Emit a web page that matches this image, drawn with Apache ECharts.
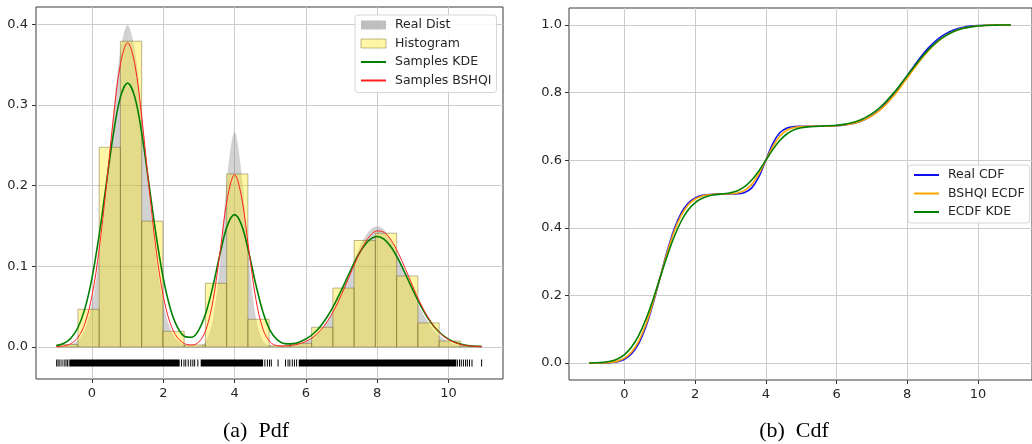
<!DOCTYPE html>
<html>
<head>
<meta charset="utf-8">
<script src="https://cdn.jsdelivr.net/npm/echarts@6/dist/echarts.min.js"></script>
<style>
  html, body { margin: 0; padding: 0; background: #fff; }
  #chart { width: 1032px; height: 444px; }
</style>
</head>
<body>
<div id="chart"></div>
<script>
// Sample grid shared by every density / distribution curve
const xGrid = [-1.0, -0.8, -0.6, -0.4, -0.2, 0.0, 0.2, 0.4, 0.6, 0.8, 1.0, 1.2, 1.4, 1.6, 1.8, 2.0, 2.2, 2.4, 2.6, 2.8,
  3.0, 3.2, 3.4, 3.6, 3.8, 4.0, 4.2, 4.4, 4.6, 4.8, 5.0, 5.2, 5.4, 5.6, 5.8, 6.0, 6.2, 6.4, 6.6, 6.8,
  7.0, 7.2, 7.4, 7.6, 7.8, 8.0, 8.2, 8.4, 8.6, 8.8, 9.0, 9.2, 9.4, 9.6, 9.8, 10.0, 10.2, 10.4, 10.6, 10.8, 10.93];

// (a) densities
const realPdf = [0.0001, 0.0006, 0.0024, 0.0079, 0.0224, 0.054, 0.111, 0.194, 0.290, 0.368, 0.399, 0.368, 0.290, 0.194, 0.111, 0.054, 0.0224, 0.0079, 0.0024, 0.0007,
  0.0011, 0.0076, 0.036, 0.109, 0.213, 0.266, 0.213, 0.109, 0.036, 0.0077, 0.0012, 0.0004, 0.0008, 0.0017, 0.0034, 0.0066, 0.0119, 0.0202, 0.0324, 0.0486,
  0.0685, 0.0907, 0.1129, 0.132, 0.145, 0.1496, 0.145, 0.132, 0.1129, 0.0907, 0.0685, 0.0486, 0.0324, 0.0202, 0.0119, 0.0066, 0.0034, 0.0017, 0.0008, 0.0003, 0.0002];
const kdePdf = [0.0015, 0.0042, 0.0105, 0.0235, 0.0472, 0.0853, 0.1384, 0.2016, 0.2637, 0.310, 0.327, 0.310, 0.2637, 0.2016, 0.1384, 0.0853, 0.0474, 0.0242, 0.0131, 0.0121,
  0.0214, 0.043, 0.0768, 0.117, 0.1507, 0.164, 0.1507, 0.117, 0.0768, 0.0427, 0.0203, 0.0087, 0.0042, 0.0038, 0.0058, 0.0098, 0.0161, 0.0252, 0.0375, 0.0529,
  0.0708, 0.0898, 0.108, 0.1233, 0.1334, 0.137, 0.1334, 0.1233, 0.108, 0.0898, 0.0708, 0.0529, 0.0375, 0.0252, 0.0161, 0.0098, 0.0056, 0.0031, 0.0016, 0.0008, 0.0005];
const bshqiPdf = [0.0003, 0.0012, 0.0039, 0.0114, 0.0288, 0.0632, 0.1202, 0.1982, 0.2833, 0.351, 0.377, 0.351, 0.2833, 0.1982, 0.1202, 0.0632, 0.0288, 0.0114, 0.0041, 0.0024,
  0.0062, 0.0217, 0.0588, 0.1204, 0.185, 0.2136, 0.185, 0.1204, 0.0588, 0.0217, 0.0061, 0.0016, 0.0011, 0.0019, 0.0037, 0.0069, 0.0121, 0.0201, 0.0315, 0.0465,
  0.0649, 0.0855, 0.1062, 0.1245, 0.1378, 0.1439, 0.1419, 0.132, 0.1158, 0.096, 0.075, 0.0553, 0.0385, 0.0253, 0.0157, 0.0092, 0.0051, 0.0026, 0.0013, 0.0006, 0.0004];

// Histogram of the samples (density-normalised, 20 bins)
const binEdges = [-0.99, -0.394, 0.202, 0.798, 1.394, 1.99, 2.586, 3.182, 3.778, 4.374, 4.97,
  5.566, 6.162, 6.758, 7.354, 7.95, 8.546, 9.142, 9.738, 10.334, 10.93];
const histDensity = [0.003, 0.0467, 0.2475, 0.379, 0.156, 0.0194, 0.0025, 0.079, 0.2145, 0.0343,
  0.0015, 0.0045, 0.0244, 0.073, 0.132, 0.141, 0.088, 0.0298, 0.0074, 0.0012];

// Rug of the samples: isolated ticks and stretches where ticks merge into a solid bar
const rugLevel = -0.02;
const rugTicks = [-0.99, -0.95, -0.90, -0.84, -0.78, -0.73, -0.69, -0.64, 2.51, 2.58, 2.63, 2.70, 2.77, 2.83, 2.88, 2.97,
  4.85, 4.92, 4.98, 5.03, 5.22, 5.43, 5.50, 5.55, 5.62, 5.68, 5.74, 10.25, 10.31, 10.36, 10.42, 10.48, 10.53, 10.59, 10.66, 10.93];
const rugBands = [[-0.62, 2.46], [3.05, 4.80], [5.80, 10.22]];

// (b) cumulative distributions
const realCdf = [0.0, 0.0001, 0.0003, 0.0013, 0.0041, 0.0114, 0.0274, 0.0575, 0.1059, 0.1723, 0.25, 0.3277, 0.3941, 0.4425, 0.4726, 0.4886, 0.4959, 0.4987, 0.4997, 0.4999,
  0.5001, 0.5008, 0.5046, 0.5182, 0.5505, 0.6, 0.6495, 0.6818, 0.6954, 0.6992, 0.6999, 0.7001, 0.7002, 0.7004, 0.7009, 0.7019, 0.7037, 0.7068, 0.712, 0.72,
  0.7317, 0.7476, 0.768, 0.7926, 0.8204, 0.85, 0.8796, 0.9074, 0.932, 0.9524, 0.9683, 0.98, 0.988, 0.9932, 0.9963, 0.9981, 0.9991, 0.9996, 0.9998, 0.9999, 1.0];
const bshqiCdf = [0.0, 0.0002, 0.0006, 0.002, 0.0058, 0.0147, 0.0326, 0.0642, 0.1124, 0.1764, 0.25, 0.3236, 0.3876, 0.4358, 0.4674, 0.4853, 0.4942, 0.498, 0.4994, 0.5,
  0.5007, 0.5032, 0.5108, 0.5284, 0.5593, 0.6, 0.6407, 0.6716, 0.6892, 0.6968, 0.6993, 0.7001, 0.7002, 0.7005, 0.701, 0.702, 0.7039, 0.7071, 0.7121, 0.7199,
  0.7309, 0.746, 0.7651, 0.7882, 0.8145, 0.8428, 0.8715, 0.8989, 0.9238, 0.945, 0.9621, 0.975, 0.9844, 0.9907, 0.9947, 0.9972, 0.9985, 0.9993, 0.9997, 0.9999, 0.9999];
const kdeCdf = [0.0003, 0.0008, 0.0022, 0.0054, 0.0123, 0.0253, 0.0475, 0.0813, 0.128, 0.1857, 0.25, 0.3143, 0.372, 0.4187, 0.4525, 0.4747, 0.4877, 0.4947, 0.4982, 0.5006,
  0.5037, 0.5099, 0.5218, 0.5412, 0.5681, 0.6, 0.6319, 0.6588, 0.6782, 0.69, 0.6961, 0.6988, 0.7, 0.7008, 0.7017, 0.7032, 0.7058, 0.7099, 0.7161, 0.7252,
  0.7376, 0.7536, 0.7735, 0.7968, 0.8227, 0.85, 0.8773, 0.9032, 0.9265, 0.9464, 0.9624, 0.9748, 0.9839, 0.9901, 0.9942, 0.9968, 0.9983, 0.9991, 0.9996, 0.9998, 0.9999];

// Tick positions
const xTicks = [0, 2, 4, 6, 8, 10];
const pdfYTicks = [0.0, 0.1, 0.2, 0.3, 0.4];
const cdfYTicks = [0.0, 0.2, 0.4, 0.6, 0.8, 1.0];

const pairs = (ys) => xGrid.map((x, i) => [x, ys[i]]);
const tickFont = { fontFamily: 'DejaVu Sans', fontSize: 13, color: '#262626' };
const histFill = 'rgba(255,232,20,0.38)';
const realFill = 'rgba(128,128,128,0.5)';

function valueAxis(gridIndex, min, max, ticks, digits, margin) {
  return {
    type: 'value', gridIndex, min, max,
    axisLine: { show: false, onZero: false },
    axisTick: { show: true, customValues: ticks, length: 4, lineStyle: { color: '#333', width: 1 } },
    axisLabel: Object.assign({ customValues: ticks, margin,
      formatter: v => digits ? Number(v).toFixed(digits) : String(Math.round(v)) }, tickFont),
    splitLine: { show: true, lineStyle: { color: '#cccccc', width: 1 } }
  };
}

function lineSeries(name, ys, color, width, axis) {
  return {
    name, type: 'line', data: pairs(ys), xAxisIndex: axis, yAxisIndex: axis,
    smooth: 0.35, symbol: 'none', silent: true,
    lineStyle: { color, width }, itemStyle: { color }, z: 5
  };
}

// legend entry for a plain line (no marker in the key)
const lineKey = name => ({ name, itemStyle: { opacity: 0 } });

const legendBase = {
  orient: 'vertical', align: 'left', itemWidth: 25, itemHeight: 9, itemGap: 4.5,
  backgroundColor: 'rgba(255,255,255,0.85)', borderColor: '#d6d6d6', borderWidth: 1, borderRadius: 3,
  selectedMode: false, formatter: n => ' ' + n,
  textStyle: { fontFamily: 'DejaVu Sans', fontSize: 12.5, color: '#262626', lineHeight: 14 }
};

const option = {
  animation: false,
  backgroundColor: '#ffffff',
  grid: [
    { left: 36, top: 7, width: 467, height: 372, show: true, borderColor: '#3a3a3a', borderWidth: 1, backgroundColor: '#fff' },
    { left: 569, top: 8, width: 468, height: 372, show: true, borderColor: '#3a3a3a', borderWidth: 1, backgroundColor: '#fff' }
  ],
  xAxis: [
    valueAxis(0, -1.57, 11.53, xTicks, 0, 8),
    valueAxis(1, -1.57, 11.53, xTicks, 0, 8)
  ],
  yAxis: [
    valueAxis(0, -0.0397, 0.4214, pdfYTicks, 1, 8),
    valueAxis(1, -0.05, 1.05, cdfYTicks, 1, 7)
  ],
  legend: [
    Object.assign({}, legendBase, {
      left: 355, top: 15, padding: [3, 5, 5, 5],
      data: [
        { name: 'Real Dist', icon: 'rect', itemStyle: { color: realFill, borderWidth: 0 } },
        { name: 'Histogram', icon: 'rect', itemStyle: { color: histFill, borderColor: 'rgba(120,100,30,0.45)', borderWidth: 1 } },
        lineKey('Samples KDE'),
        lineKey('Samples BSHQI')
      ]
    }),
    Object.assign({}, legendBase, {
      left: 908, top: 165, padding: [3, 5, 4, 5],
      data: [lineKey('Real CDF'), lineKey('BSHQI ECDF'), lineKey('ECDF KDE')]
    })
  ],
  graphic: [
    { type: 'text', x: 256, y: 431, style: { text: '(a)  Pdf', font: '22px "Liberation Serif"', fill: '#000', align: 'center', verticalAlign: 'middle', textAlign: 'center', textVerticalAlign: 'middle' } },
    { type: 'text', x: 794, y: 431, style: { text: '(b)  Cdf', font: '22px "Liberation Serif"', fill: '#000', align: 'center', verticalAlign: 'middle', textAlign: 'center', textVerticalAlign: 'middle' } }
  ],
  series: [
    {
      name: 'Real Dist', type: 'line', data: pairs(realPdf), xAxisIndex: 0, yAxisIndex: 0,
      smooth: 0.35, symbol: 'none', silent: true, z: 1,
      lineStyle: { width: 0, color: realFill },
      itemStyle: { color: realFill },
      areaStyle: { color: realFill, origin: 0 }
    },
    {
      name: 'Histogram', type: 'custom', xAxisIndex: 0, yAxisIndex: 0, silent: true, z: 2,
      itemStyle: { color: histFill },
      data: histDensity.map((h, i) => [binEdges[i], binEdges[i + 1], h]),
      encode: { x: [0, 1], y: 2 },
      renderItem: (params, api) => {
        const a = api.coord([api.value(0), api.value(2)]);
        const b = api.coord([api.value(1), 0]);
        return {
          type: 'rect',
          shape: { x: a[0], y: a[1], width: b[0] - a[0], height: b[1] - a[1] },
          style: { fill: histFill, stroke: 'rgba(90,75,25,0.4)', lineWidth: 1 }
        };
      }
    },
    {
      name: 'rug-bands', type: 'custom', xAxisIndex: 0, yAxisIndex: 0, silent: true, z: 3,
      data: rugBands.map(b => [b[0], b[1], rugLevel]),
      encode: { x: [0, 1], y: 2 },
      renderItem: (params, api) => {
        const a = api.coord([api.value(0), api.value(2)]);
        const b = api.coord([api.value(1), api.value(2)]);
        return { type: 'rect', shape: { x: a[0], y: a[1] - 3.5, width: b[0] - a[0], height: 7 }, style: { fill: '#000' } };
      }
    },
    {
      name: 'rug-ticks', type: 'custom', xAxisIndex: 0, yAxisIndex: 0, silent: true, z: 3,
      data: rugTicks.map(x => [x, rugLevel]),
      encode: { x: 0, y: 1 },
      renderItem: (params, api) => {
        const p = api.coord([api.value(0), api.value(1)]);
        return { type: 'rect', shape: { x: p[0] - 0.5, y: p[1] - 3.5, width: 1, height: 7 }, style: { fill: '#000' } };
      }
    },
    lineSeries('Samples KDE', kdePdf, '#008000', 1.6, 0),
    lineSeries('Samples BSHQI', bshqiPdf, '#ff2020', 1.0, 0),
    lineSeries('Real CDF', realCdf, '#1010ee', 1.6, 1),
    lineSeries('BSHQI ECDF', bshqiCdf, '#ffa500', 1.6, 1),
    lineSeries('ECDF KDE', kdeCdf, '#008000', 1.6, 1)
  ]
};

const chart = echarts.init(document.getElementById('chart'), null, { renderer: 'canvas' });
chart.setOption(option);
</script>
</body>
</html>
